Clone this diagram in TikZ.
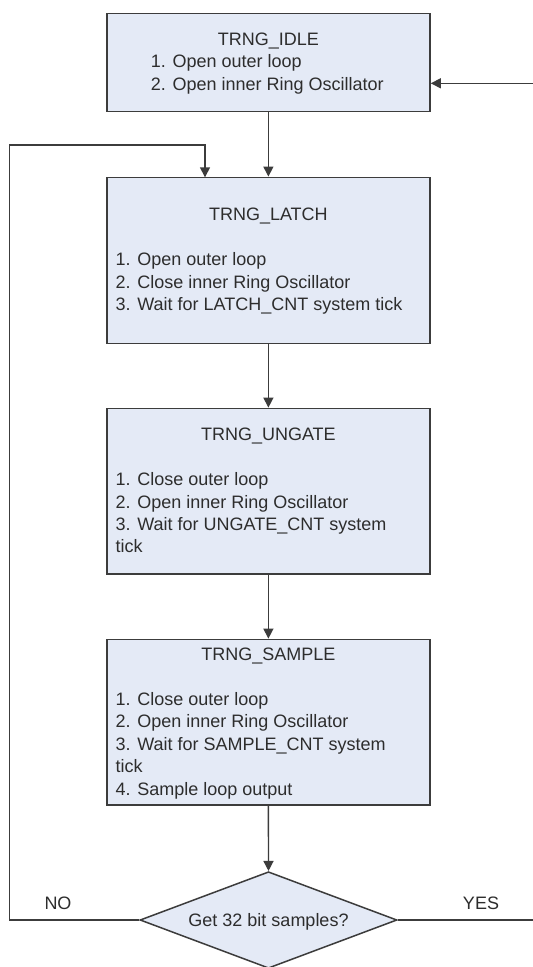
\documentclass[tikz,border=0pt]{standalone}
\usepackage{fontspec}
\setmainfont{Liberation Sans}
\usetikzlibrary{shapes.geometric,arrows.meta}
\definecolor{boxfill}{RGB}{228,234,246}
\definecolor{edge}{RGB}{60,60,60}
\definecolor{txt}{RGB}{45,45,45}
\tikzset{
  statebox/.style={draw=edge, line width=1.5pt, fill=boxfill, rectangle, minimum width=323.3pt, inner sep=0pt},
  ttl/.style={anchor=base, inner sep=0pt, text=txt, font=\fontsize{18}{22}\selectfont},
  ln/.style={anchor=base west, inner sep=0pt, text=txt, font=\fontsize{18}{22}\selectfont},
  lbl/.style={anchor=base, inner sep=0pt, text=txt, font=\fontsize{18}{22}\selectfont},
  conn/.style={draw=edge, line width=1.4pt},
  arr/.style={conn, -{Triangle[length=10pt,width=10pt]}}
}
\begin{document}
\begin{tikzpicture}[x=1pt,y=-1pt]
\path[use as bounding box, fill=white] (0,0) rectangle (533,967);

% boxes
\node[statebox, minimum height=98.4pt] (idle) at (268.4,62.5) {};
\node[statebox, minimum height=166pt] (latch) at (268.4,260.3) {};
\node[statebox, minimum height=165.7pt] (ungate) at (268.4,491.2) {};
\node[statebox, minimum height=165.7pt] (sample) at (268.4,722.2) {};
\node[diamond, draw=edge, line width=1.5pt, fill=boxfill, minimum width=257pt, minimum height=96.6pt, inner sep=0pt] (dia) at (268.5,920) {};

% texts: IDLE
\node[ttl] (t1) at (268.4,45) {TRNG\_IDLE};
\node[ln] (t1a) at (150.7,67) {1. Open outer loop};
\node[ln] (t1b) at (150.7,90) {2. Open inner Ring Oscillator};
% LATCH
\node[ttl] (t2) at (268.4,220.7) {TRNG\_LATCH};
\node[ln] (t2a) at (115.5,265.7) {1. Open outer loop};
\node[ln] (t2b) at (115.5,288.2) {2. Close inner Ring Oscillator};
\node[ln] (t2c) at (115.5,310.5) {3. Wait for LATCH\_CNT system tick};
% UNGATE
\node[ttl] (t3) at (268.4,440.7) {TRNG\_UNGATE};
\node[ln] (t3a) at (115.5,485.7) {1. Close outer loop};
\node[ln] (t3b) at (115.5,508) {2. Open inner Ring Oscillator};
\node[ln] (t3c) at (115.5,530.2) {3. Wait for UNGATE\_CNT system};
\node[ln] (t3d) at (115.5,552.4) {tick};
% SAMPLE
\node[ttl] (t4) at (268.4,660.7) {TRNG\_SAMPLE};
\node[ln] (t4a) at (115.5,705) {1. Close outer loop};
\node[ln] (t4b) at (115.5,727.5) {2. Open inner Ring Oscillator};
\node[ln] (t4c) at (115.5,750) {3. Wait for SAMPLE\_CNT system};
\node[ln] (t4d) at (115.5,772.3) {tick};
\node[ln] (t4e) at (115.5,795) {4. Sample loop output};
% diamond text
\node[lbl] (t5) at (268.5,926) {Get 32 bit samples?};
\node[lbl] (no) at (58,909.3) {NO};
\node[lbl] (yes) at (481,909.3) {YES};

% connectors
\coordinate (inR) at (533,83.3);
\coordinate (loopc) at (9.3,145);
\coordinate (lt) at (205,177.3);
\coordinate (outR) at (533,920);
\draw[arr] (inR) -- (inR -| idle.east);
\draw[arr] (idle.south) -- (latch.north);
\draw[arr] (latch.south) -- (ungate.north);
\draw[arr] (ungate.south) -- (sample.north);
\draw[arr] (sample.south) -- (dia.north);
\draw[arr] (dia.west) -| (loopc) -| (lt);
\draw[conn] (dia.east) -- (outR);
\end{tikzpicture}
\end{document}
